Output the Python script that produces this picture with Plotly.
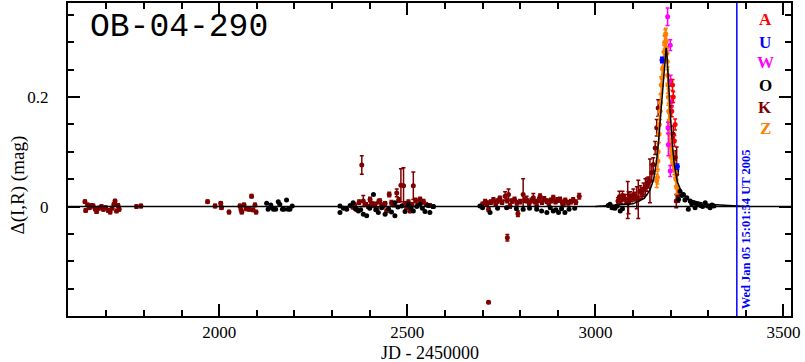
import plotly.graph_objects as go

# ---------------- data (JD - 2450000, Delta(I,R) mag) ----------------
# OGLE (O, black)
o_x = [2126, 2130, 2137, 2140, 2144, 2150, 2157, 2161, 2168, 2172, 2179, 2183, 2188, 2194,
       2321, 2321, 2330, 2339, 2348, 2356, 2362, 2370, 2376, 2383, 2392, 2400, 2410, 2416,
       2423, 2432, 2441, 2450, 2458, 2467, 2467, 2475, 2485, 2494, 2503, 2510, 2516, 2525,
       2534, 2540, 2547, 2555, 2560, 2569,
       2693, 2700, 2720, 2740, 2764, 2790, 2808, 2825, 2844, 2857, 2871, 2880, 2888, 2895,
       2902, 2910, 2919, 2930, 2945,
       3034, 3039, 3044, 3048, 3052, 3058, 3066, 3072,
       3209, 3216, 3221, 3225, 3230, 3234, 3238, 3243, 3247, 3252, 3256, 3261, 3265, 3270,
       3274, 3280, 3285, 3292, 3298, 3305, 3310, 3315]
o_y = [0.006, -0.005, 0.003, -0.002, -0.005, -0.005, 0.009, 0.004, -0.005, -0.005, 0.012, -0.005, -0.005, 0.001,
       0.001, -0.011, -0.003, -0.005, 0.002, 0.007, -0.004, -0.008, -0.006, -0.014, -0.017, -0.003, 0.022, -0.006,
       -0.011, -0.002, -0.014, -0.004, -0.010, 0.007, -0.017, -0.001, 0.001, -0.009, 0.004, -0.002, -0.008, 0.000,
       0.004, -0.003, -0.009, 0.002, -0.011, 0.000,
       0.001, -0.002, -0.011, -0.003, -0.002, -0.004, -0.005, -0.003, -0.005, -0.008, -0.011, -0.002, -0.008, -0.006,
       -0.011, -0.004, -0.011, -0.005, -0.003,
       0.002, 0.004, -0.002, -0.002, -0.003, 0.001, -0.008, -0.004,
       0.077, 0.065, 0.013, 0.028, 0.020, 0.022, 0.012, 0.016, -0.005, 0.010, 0.005, 0.007, -0.002, 0.004,
       0.004, 0.002, 0.000, 0.007, 0.001, -0.002, 0.003, 0.001]

# K (dark red)
k_x = [1643, 1645, 1650, 1655, 1660, 1665, 1670, 1674, 1680, 1687, 1692, 1698, 1705, 1710, 1715, 1720,
       1723, 1727, 1731, 1734, 1780, 1792,
       1969, 1989, 2004, 2006, 2026, 2055, 2058, 2060, 2066, 2072, 2080, 2086, 2090, 2095, 2098,
       2355, 2360, 2365, 2372, 2379, 2383, 2390, 2396, 2401, 2405, 2410, 2414, 2419, 2424, 2427, 2432,
       2436, 2441, 2445, 2452, 2458, 2464, 2472, 2477, 2483, 2490, 2495, 2498, 2503, 2507, 2512, 2516,
       2522, 2528, 2534, 2543, 2550, 2560, 2569,
       2700, 2707, 2712, 2716, 2722, 2729, 2735, 2740, 2746, 2752, 2760, 2766, 2769, 2773, 2778, 2785,
       2791, 2794, 2800, 2808, 2812, 2817, 2824, 2830, 2835, 2840, 2844, 2850, 2853, 2858, 2864, 2871,
       2876, 2882, 2888, 2894, 2900, 2906, 2912, 2915, 2920, 2928, 2935, 2941, 2948, 2957,
       2716, 2766,
       3060, 3064, 3068, 3072, 3075, 3080, 3084, 3086, 3088, 3092, 3096, 3101, 3105, 3110, 3114, 3119,
       3124, 3128, 3133, 3137, 3141, 3145, 3150, 3154, 3159, 3163, 3167,
       3207, 3212, 3215, 3216, 3220]
k_y = [0.009, -0.007, 0.003, -0.002, 0.002, 0.001, -0.004, -0.009, -0.003, 0.000, -0.005, -0.002, -0.007, -0.010, -0.003, 0.004,
       0.010, -0.008, 0.002, -0.005, 0.000, 0.001,
       0.009, 0.001, 0.006, -0.002, -0.010, 0.001, -0.006, -0.010, 0.003, -0.004, -0.005, 0.019, -0.006, 0.003, -0.010,
       -0.001, 0.003, -0.005, 0.008, 0.076, 0.010, 0.004, 0.000, 0.013, 0.006, 0.002, 0.004, -0.005, 0.009, 0.010, 0.003,
       0.001, 0.006, -0.008, 0.022, 0.007, 0.003, 0.025, 0.012, 0.039, 0.038, 0.006, -0.002, 0.008, -0.008, 0.004, 0.038,
       0.011, 0.003, 0.013, 0.009, 0.004, 0.002, 0.000,
       0.004, 0.009, 0.006, -0.005, 0.008, 0.012, 0.005, 0.010, 0.015, 0.008, 0.019, 0.011, 0.022, 0.001, 0.010, 0.013,
       0.007, -0.013, 0.009, 0.022, 0.012, 0.013, 0.006, 0.011, 0.016, 0.009, 0.001, 0.012, 0.019, 0.008, 0.014, 0.010,
       0.006, 0.011, 0.016, 0.009, 0.012, 0.013, 0.007, 0.004, 0.011, 0.007, 0.009, 0.012, 0.008, 0.019,
       -0.175, -0.057,
       0.010, 0.018, 0.012, 0.020, 0.016, 0.014, 0.010, 0.012, 0.007, 0.019, 0.015, 0.022, 0.018, 0.016, 0.013, 0.028,
       0.025, 0.031, 0.036, 0.040, 0.044, 0.047, 0.062, 0.077, 0.107, 0.144, 0.180,
       0.132, 0.090, 0.010, 0.059, 0.020]
k_e = [0.003] * 22 + [0.003] * 15 + \
      [0.003, 0.003, 0.003, 0.004, 0.017, 0.010, 0.003, 0.003, 0.004, 0.003, 0.003, 0.004, 0.003, 0.004, 0.004, 0.003,
       0.003, 0.003, 0.003, 0.004, 0.004, 0.003, 0.007, 0.004, 0.030, 0.033, 0.003, 0.003, 0.004, 0.003, 0.003, 0.025,
       0.004, 0.003, 0.004, 0.004, 0.003, 0.003, 0.003] + \
      [0.004, 0.004, 0.004, 0.004, 0.004, 0.004, 0.004, 0.004, 0.004, 0.004, 0.008, 0.004, 0.010, 0.004, 0.004, 0.004,
       0.004, 0.005, 0.004, 0.029, 0.004, 0.006, 0.004, 0.004, 0.008, 0.004, 0.004, 0.004, 0.004, 0.004, 0.004, 0.004,
       0.004, 0.004, 0.004, 0.004, 0.004, 0.004, 0.004, 0.004, 0.004, 0.004, 0.004, 0.004, 0.004, 0.005] + \
      [0.002, 0.006] + \
      [0.006, 0.010, 0.006, 0.008, 0.006, 0.008, 0.006, 0.034, 0.020, 0.008, 0.006, 0.010, 0.008, 0.020, 0.035, 0.010,
       0.010, 0.012, 0.015, 0.012, 0.010, 0.040, 0.015, 0.012, 0.012, 0.015, 0.015,
       0.015, 0.012, 0.012, 0.050, 0.012]

# Z (orange)
z_x = [3163, 3165, 3166, 3167, 3169, 3170, 3172, 3173, 3175, 3177, 3179, 3181, 3183, 3184, 3186, 3187,
       3188, 3189, 3190, 3191, 3192, 3193, 3194, 3195, 3196, 3197, 3199, 3201, 3204, 3207, 3210, 3212, 3214, 3216]
z_y = [0.047, 0.053, 0.083, 0.100, 0.132, 0.150, 0.174, 0.190, 0.222, 0.235, 0.253, 0.270, 0.283, 0.300, 0.313, 0.316,
       0.301, 0.290, 0.280, 0.265, 0.240, 0.222, 0.200, 0.174, 0.155, 0.132, 0.110, 0.090, 0.101, 0.080, 0.070, 0.065, 0.050, 0.035]
z_e = [0.012, 0.012, 0.015, 0.015, 0.015, 0.015, 0.015, 0.015, 0.015, 0.015, 0.012, 0.012, 0.012, 0.012, 0.010, 0.010,
       0.012, 0.012, 0.012, 0.015, 0.015, 0.015, 0.015, 0.015, 0.015, 0.015, 0.015, 0.015, 0.015, 0.015, 0.012, 0.012, 0.012, 0.012]

# W (magenta)
w_x = [3192, 3193, 3194, 3199, 3199, 3203, 3200]
w_y = [0.347, 0.144, 0.113, 0.295, 0.065, 0.192, 0.230]
w_e = [0.016, 0.010, 0.020, 0.010, 0.010, 0.010, 0.010]

# A (red)
a_x = [3203, 3205, 3207, 3210, 3212]
a_y = [0.174, 0.222, 0.200, 0.120, 0.150]
a_e = [0.010, 0.010, 0.010, 0.010, 0.010]

# U (blue)
u_x = [3177, 3218]
u_y = [0.268, 0.073]
u_e = [0.005, 0.005]

# model light curve
m_x = [3000, 3100, 3130, 3145, 3155, 3162, 3168, 3174, 3179, 3183, 3186, 3188, 3190, 3193, 3196,
       3200, 3205, 3210, 3218, 3230, 3250, 3300, 3400]
m_y = [0.000, 0.005, 0.015, 0.030, 0.050, 0.080, 0.120, 0.170, 0.220, 0.260, 0.285, 0.290, 0.280, 0.250, 0.210,
       0.160, 0.110, 0.075, 0.045, 0.025, 0.012, 0.004, 0.000]

legend_labels = ["A", "U", "W", "O", "K", "Z"]
legend_colors = ["#ff0000", "#0000ff", "#ff00ff", "#000000", "#800000", "#ff8000"]

title_text = "OB-04-290"
date_text = "Wed Jan 05 15:01:54 UT 2005"
now_jd = 3376
x_title = "JD - 2450000"
y_title = "\u0394(I,R) (mag)"

# ---------------- figure ----------------
fig = go.Figure()

def pts(x, y, e, color, size=5):
    return go.Scatter(
        x=x, y=y, mode="markers",
        marker=dict(color=color, size=size, symbol="circle", line=dict(width=0)),
        error_y=dict(type="data", array=e, visible=True, color=color, thickness=1.5, width=2),
        showlegend=False, hoverinfo="skip")

fig.add_trace(pts(k_x, k_y, k_e, "#800000"))
fig.add_trace(pts(o_x, o_y, None, "#000000"))
fig.add_trace(pts(z_x, z_y, z_e, "#ff8000"))
fig.add_trace(pts(w_x, w_y, w_e, "#ff00ff"))
fig.add_trace(pts(a_x, a_y, a_e, "#ff0000"))
fig.add_trace(pts(u_x, u_y, u_e, "#0000ff"))
fig.add_trace(go.Scatter(x=m_x, y=m_y, mode="lines", line=dict(color="black", width=1.5),
                         showlegend=False, hoverinfo="skip"))

# zero line and "now" line
fig.add_shape(type="line", xref="paper", x0=0, x1=1, yref="y", y0=0, y1=0,
              line=dict(color="black", width=1.5))
fig.add_shape(type="line", xref="x", x0=now_jd, x1=now_jd, yref="paper", y0=0, y1=1,
              line=dict(color="#0000ff", width=1.5))

fig.add_annotation(x=now_jd, y=-0.042, xref="x", yref="y", text="<b>" + date_text + "</b>", textangle=-90,
                   showarrow=False, xanchor="left", xshift=0,
                   font=dict(family="Liberation Serif", size=12.5, color="#0000ff"))

fig.add_annotation(x=0.027, y=0.921, xref="paper", yref="paper", text=title_text,
                   showarrow=False, xanchor="left", yanchor="middle",
                   font=dict(family="Liberation Mono", size=33, color="black"))

leg_y = [0.946, 0.873, 0.8095, 0.7365, 0.6667, 0.600]
for lab, col, yy in zip(legend_labels, legend_colors, leg_y):
    fig.add_annotation(x=0.9647, y=yy, xref="paper", yref="paper", text="<b>" + lab + "</b>",
                       showarrow=False, xanchor="center", yanchor="middle",
                       font=dict(family="Liberation Serif", size=17, color=col))

fig.add_annotation(x=0.5, y=-0.119, xref="paper", yref="paper", text=x_title, showarrow=False,
                   xanchor="center", yanchor="middle",
                   font=dict(family="Liberation Serif", size=18, color="black"))
fig.add_annotation(x=-0.0692, y=0.42, xref="paper", yref="paper", text=y_title, showarrow=False,
                   textangle=-90, xanchor="center", yanchor="middle",
                   font=dict(family="Liberation Serif", size=19, color="black"))

axis_common = dict(showline=True, linecolor="black", linewidth=2, mirror="ticks",
                   ticks="inside", tickcolor="black", tickwidth=1.5, ticklen=12,
                   showgrid=False, zeroline=False,
                   tickfont=dict(family="Liberation Serif", size=17, color="black"))

fig.update_xaxes(range=[1598, 3520], tickmode="linear", tick0=0, dtick=500,
                 minor=dict(ticks="inside", tickmode="linear", tick0=0, dtick=100, ticklen=6,
                            tickcolor="black", tickwidth=1.5, showgrid=False),
                 ticklabelstandoff=0, **axis_common)
fig.update_yaxes(range=[-0.2, 0.372], tickmode="array", tickvals=[0, 0.2], ticktext=["0", "0.2"],
                 minor=dict(ticks="inside", tickmode="linear", tick0=0, dtick=0.05, ticklen=6,
                            tickcolor="black", tickwidth=1.5, showgrid=False),
                 ticklabelstandoff=14, **axis_common)

fig.update_layout(width=805, height=362, margin=dict(l=68, r=14, t=1, b=46),
                  paper_bgcolor="white", plot_bgcolor="white", showlegend=False)

fig.write_html("out.html", config={"displayModeBar": False},
               post_script="document.body.style.margin='0';document.body.style.overflow='hidden';")
